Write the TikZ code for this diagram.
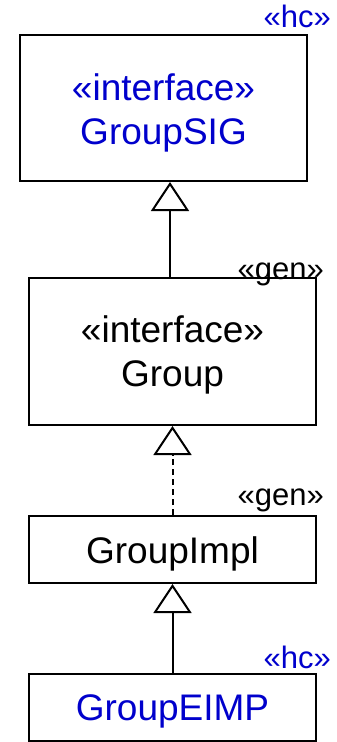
\documentclass[tikz,border=0pt]{standalone}
\usepackage{fontspec}
\setmainfont{Liberation Sans}
\usetikzlibrary{arrows.meta}
\definecolor{hcblue}{HTML}{0000CC}
\begin{document}
\begin{tikzpicture}[x=1pt,y=-1pt,
  classbox/.style={draw, line width=2pt, inner sep=0pt, minimum width=287pt},
  maintext/.style={anchor=base, inner sep=0pt, font=\fontsize{37}{44}\selectfont},
  tagtext/.style={anchor=base east, inner sep=0pt, font=\fontsize{31}{37}\selectfont},
  inherit/.style={line width=2pt, -{Triangle[open, length=29pt, width=38pt, fill=white]}},
  realize/.style={inherit, dash pattern=on 6pt off 4pt}]
\useasboundingbox (0,0) rectangle (337,742);

% class boxes
\node[classbox, minimum height=146pt] (sig)  at (163.5,108)   {};
\node[classbox, minimum height=147pt] (grp)  at (172.5,351.5) {};
\node[classbox, minimum height=67pt]  (impl) at (172.5,549.5) {};
\node[classbox, minimum height=67pt]  (eimp) at (172.5,707.5) {};

% texts inside the boxes
\node[maintext, text=hcblue] (sigst) at (163.5,100) {«interface»};
\node[maintext, text=hcblue] (signm) at (163.5,144) {GroupSIG};
\node[maintext] (grpst) at (172.5,342) {«interface»};
\node[maintext] (grpnm) at (172.5,386) {Group};
\node[maintext] (implnm) at (172.5,563) {GroupImpl};
\node[maintext, text=hcblue] (eimpnm) at (172.5,720) {GroupEIMP};

% stereotype tags at the top right corners
\node[tagtext, text=hcblue] (tag1) at (331,27)  {«hc»};
\node[tagtext] (tag2) at (324,279) {«gen»};
\node[tagtext] (tag3) at (324,505) {«gen»};
\node[tagtext, text=hcblue] (tag4) at (331,668) {«hc»};

% generalization and realization arrows
\coordinate (a1) at (170,278);
\draw[inherit] (a1) -- (sig.south -| a1);
\draw[realize] (impl.north) -- (grp.south);
\draw[inherit] (eimp.north) -- (impl.south);
\end{tikzpicture}
\end{document}
